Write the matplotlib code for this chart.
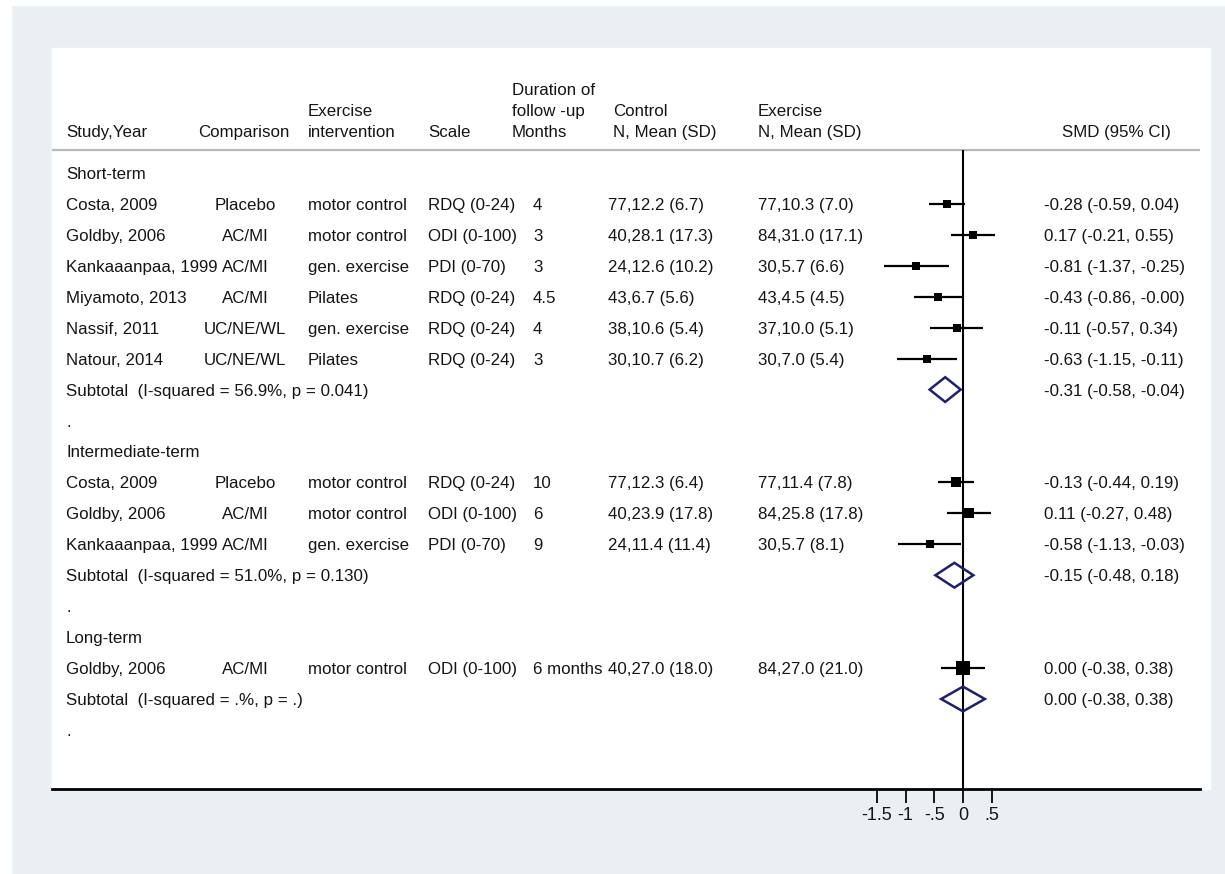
import matplotlib
matplotlib.use("Agg")
import matplotlib.pyplot as plt
from matplotlib.patches import Rectangle, Polygon
from matplotlib.transforms import blended_transform_factory

plt.rcParams['font.family'] = ['Liberation Sans', 'DejaVu Sans']

# ---- data ----
groups = ["Short-term", "Intermediate-term", "Long-term"]
group_of = [0, 0, 0, 0, 0, 0, 1, 1, 1, 2]
study = ["Costa, 2009", "Goldby, 2006", "Kankaaanpaa, 1999", "Miyamoto, 2013",
         "Nassif, 2011", "Natour, 2014",
         "Costa, 2009", "Goldby, 2006", "Kankaaanpaa, 1999",
         "Goldby, 2006"]
comparison = ["Placebo", "AC/MI", "AC/MI", "AC/MI", "UC/NE/WL", "UC/NE/WL",
              "Placebo", "AC/MI", "AC/MI", "AC/MI"]
intervention = ["motor control", "motor control", "gen. exercise", "Pilates",
                "gen. exercise", "Pilates",
                "motor control", "motor control", "gen. exercise",
                "motor control"]
scale = ["RDQ (0-24)", "ODI (0-100)", "PDI (0-70)", "RDQ (0-24)", "RDQ (0-24)",
         "RDQ (0-24)", "RDQ (0-24)", "ODI (0-100)", "PDI (0-70)", "ODI (0-100)"]
duration = ["4", "3", "3", "4.5", "4", "3", "10", "6", "9", "6 months"]
control = ["77,12.2 (6.7)", "40,28.1 (17.3)", "24,12.6 (10.2)", "43,6.7 (5.6)",
           "38,10.6 (5.4)", "30,10.7 (6.2)", "77,12.3 (6.4)", "40,23.9 (17.8)",
           "24,11.4 (11.4)", "40,27.0 (18.0)"]
exercise = ["77,10.3 (7.0)", "84,31.0 (17.1)", "30,5.7 (6.6)", "43,4.5 (4.5)",
            "37,10.0 (5.1)", "30,7.0 (5.4)", "77,11.4 (7.8)", "84,25.8 (17.8)",
            "30,5.7 (8.1)", "84,27.0 (21.0)"]
smd = [-0.28, 0.17, -0.81, -0.43, -0.11, -0.63, -0.13, 0.11, -0.58, 0.00]
ci_lo = [-0.59, -0.21, -1.37, -0.86, -0.57, -1.15, -0.44, -0.27, -1.13, -0.38]
ci_hi = [0.04, 0.55, -0.25, -0.004, 0.34, -0.11, 0.19, 0.48, -0.03, 0.38]
weights = [21.5, 18.0, 12.5, 17.0, 16.5, 14.5, 39.5, 35.0, 25.5, 100.0]

sub_label = ["Subtotal  (I-squared = 56.9%, p = 0.041)",
             "Subtotal  (I-squared = 51.0%, p = 0.130)",
             "Subtotal  (I-squared = .%, p = .)"]
sub_smd = [-0.31, -0.15, 0.00]
sub_lo = [-0.58, -0.48, -0.38]
sub_hi = [-0.04, 0.18, 0.38]

tick_vals = [-1.5, -1, -0.5, 0, 0.5]
tick_labels = ["-1.5", "-1", "-.5", "0", ".5"]

headers = [["Study,Year"], ["Comparison"], ["Exercise", "intervention"], ["Scale"],
           ["Duration of", "follow -up", "Months"], ["Control", "N, Mean (SD)"],
           ["Exercise", "N, Mean (SD)"], ["SMD (95% CI)"]]


def fmt(v):
    return f"{v:.2f}"


# ---- layout (pixels) ----
W, H = 1225, 874
x_zero, px_unit = 963, 57.5
row0, rs = 173, 30.94
left, right, top, bottom = 52, 1200, 48, 789
fs = 12.2
tc = '#151515'

fig = plt.figure(figsize=(W / 100, H / 100), dpi=100, facecolor='#e9eff2')
fig.patches.append(Rectangle((0, 0), 11 / W, 1, transform=fig.transFigure,
                             color='white', zorder=0))
fig.patches.append(Rectangle((0, 1 - 5 / H), 1, 5 / H, transform=fig.transFigure,
                             color='white', zorder=0))
fig.patches.append(Rectangle((left / W, 1 - bottom / H), (1210 - left) / W,
                             (bottom - top) / H, transform=fig.transFigure,
                             color='white', zorder=0))

ax = fig.add_axes([left / W, 1 - bottom / H, (right - left) / W, (bottom - top) / H])
ax.set_zorder(2)
ax.set_facecolor('none')
ax.set_xlim((left - x_zero) / px_unit, (right - x_zero) / px_unit)
ax.set_ylim((bottom - row0) / rs, (top - row0) / rs)
for s in ['top', 'left', 'right']:
    ax.spines[s].set_visible(False)
ax.spines['bottom'].set_linewidth(2.0)
ax.set_yticks([])
ax.set_xticks(tick_vals)
ax.set_xticklabels(tick_labels)
ax.tick_params(axis='x', length=10, width=1.4, direction='out', pad=3,
               labelsize=13, colors=tc)

tr = blended_transform_factory(ax.transAxes, ax.transData)


def ax_x(px):
    return (px - left) / (right - left)


def py(p):
    return (p - row0) / rs


# header
hdr_x = [66, 198, 308, 428, 512, 613, 758, 1062]
for hx, lines in zip(hdr_x, headers):
    for k, line in enumerate(reversed(lines)):
        ax.text(ax_x(hx), py(131 - 21 * k), line, transform=tr, fontsize=fs,
                color=tc, ha='left', va='center_baseline')
hdr_y = py(150)
ax.axhline(hdr_y, color='#b8b8b8', lw=1.6, zorder=1)
ax.vlines(0, hdr_y, ax.get_ylim()[0], color='black', lw=1.5, zorder=2)

col_x = [66, 245, 308, 428, 533, 608, 758, 1044]


def put(px, row, s, ha='left'):
    ax.text(ax_x(px), row, s, transform=tr, fontsize=fs, color=tc, ha=ha,
            va='center_baseline')


row = 0
for g, gname in enumerate(groups):
    put(66, row, gname)
    row += 1
    for i in [j for j in range(len(study)) if group_of[j] == g]:
        put(col_x[0], row, study[i])
        put(col_x[1], row, comparison[i], ha='center')
        put(col_x[2], row, intervention[i])
        put(col_x[3], row, scale[i])
        put(col_x[4], row, duration[i])
        put(col_x[5], row, control[i])
        put(col_x[6], row, exercise[i])
        put(col_x[7], row, f"{fmt(smd[i])} ({fmt(ci_lo[i])}, {fmt(ci_hi[i])})")
        ax.hlines(row, ci_lo[i], ci_hi[i], color='black', lw=1.6, zorder=3)
        side = 13.5 * (weights[i] / 100) ** 0.3
        ax.plot(smd[i], row, marker='s', ms=side * 0.72, color='black',
                mew=0, zorder=4)
        row += 1
    put(66, row, sub_label[g])
    put(col_x[7], row, f"{fmt(sub_smd[g])} ({fmt(sub_lo[g])}, {fmt(sub_hi[g])})")
    h = 0.4
    ax.add_patch(Polygon([(sub_lo[g], row), (sub_smd[g], row - h), (sub_hi[g], row),
                          (sub_smd[g], row + h)], closed=True, fill=False,
                         edgecolor='#1f1f70', lw=1.8, zorder=4))
    row += 1
    put(66, row, ".")
    row += 1

fig.savefig("out.png", dpi=100, facecolor=fig.get_facecolor())
